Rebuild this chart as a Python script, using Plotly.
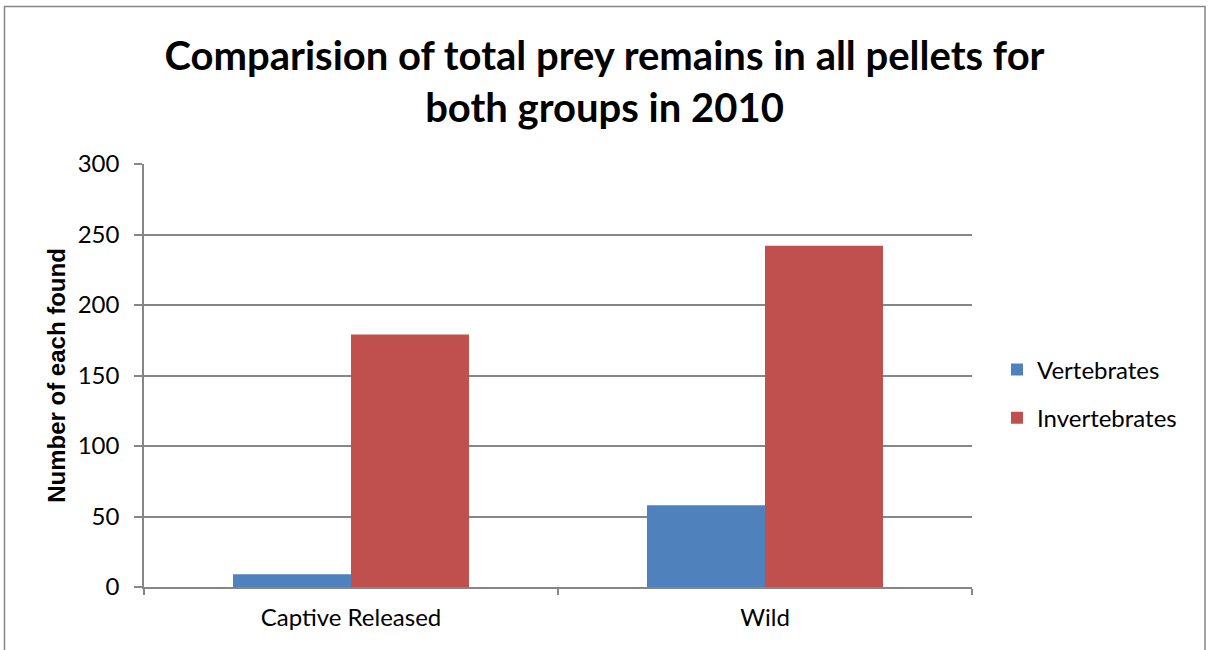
import plotly.graph_objects as go

categories = ["Captive Released", "Wild"]
vertebrates = [9, 58]
invertebrates = [179, 242]
y_ticks = [0, 50, 100, 150, 200, 250, 300]

FONT = "Lato"
GRID = "#868686"

fig = go.Figure()
fig.add_trace(go.Bar(name="Vertebrates", x=categories, y=vertebrates, legendgroup="v",
                     marker=dict(color="#4F81BD", line=dict(width=0))))
fig.add_trace(go.Bar(name="Invertebrates", x=categories, y=invertebrates, legendgroup="i",
                     marker=dict(color="#C0504D", line=dict(width=0))))

L, R, T, B = 144, 237, 164, 63
W, H = 1209, 650
pw, ph = W - L - R, H - T - B

fig.update_layout(
    width=W, height=H,
    margin=dict(l=L, r=R, t=T, b=B),
    paper_bgcolor="white", plot_bgcolor="white",
    barmode="group", bargap=0.43, bargroupgap=0,
    font=dict(family=FONT, color="black", size=24),
    title=dict(text="<b>Comparision of total prey remains in all pellets for<br>both groups in 2010</b>",
               x=0.5, xanchor="center", y=1 - 70 / H, yanchor="middle",
               font=dict(family=FONT, size=40, color="black")),
    legend=dict(x=(997 - L) / pw, y=1 - (394 - T) / ph, xanchor="left", yanchor="middle",
                font=dict(family=FONT, size=24), itemwidth=30, tracegroupgap=14,
                traceorder="grouped", bgcolor="rgba(0,0,0,0)"),
    xaxis=dict(showline=True, linecolor=GRID, linewidth=1.5, ticks="outside",
               tickson="boundaries", ticklen=6, tickcolor=GRID, tickwidth=1.5,
               showgrid=False, tickfont=dict(family=FONT, size=24), ticklabelstandoff=8),
    yaxis=dict(range=[0, 300], tickvals=y_ticks, showline=True, linecolor=GRID, linewidth=1.5,
               ticks="outside", ticklen=8, tickcolor=GRID, tickwidth=1.5,
               showgrid=True, gridcolor=GRID, gridwidth=1.5, zeroline=False,
               tickfont=dict(family=FONT, size=24), ticklabelstandoff=10,
               title=dict(text="<b>Number of each found</b>", standoff=5,
                          font=dict(family="Liberation Sans", size=24))),
    shapes=[dict(type="rect", xref="paper", yref="paper",
                 x0=(4.5 - L) / pw, x1=(1205 - L) / pw,
                 y0=(H - 660 - B) / ph, y1=(H - 6.5 - B) / ph,
                 line=dict(color="#868686", width=1.5), fillcolor="rgba(0,0,0,0)", layer="below")],
)

fig.write_html("out.html")
